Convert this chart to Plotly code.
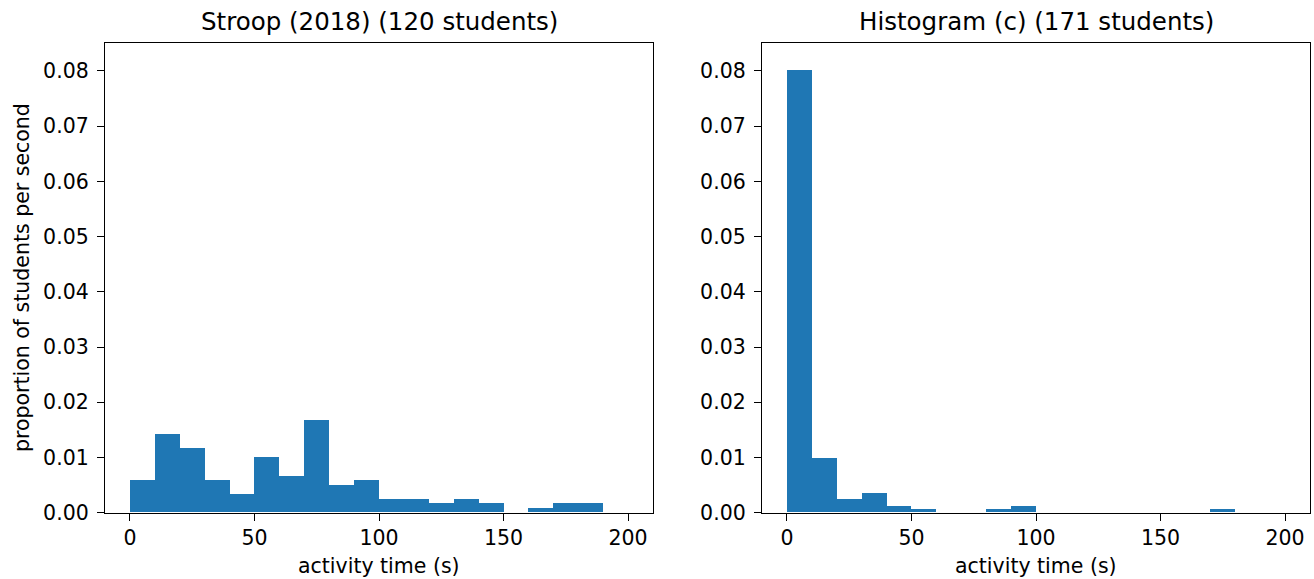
import plotly.graph_objects as go

# bin left edges (seconds), bin width 10
bin_edges = [0, 10, 20, 30, 40, 50, 60, 70, 80, 90, 100, 110, 120, 130, 140, 150, 160, 170, 180, 190]
bin_width = 10

# proportion of students per second
stroop_density = [0.00583, 0.01417, 0.01167, 0.00583, 0.00333, 0.01000, 0.00667, 0.01667, 0.00500, 0.00583,
                  0.00250, 0.00250, 0.00167, 0.00250, 0.00167, 0.0, 0.00083, 0.00167, 0.00167, 0.0]
hist_c_density = [0.08012, 0.00994, 0.00234, 0.00351, 0.00117, 0.00058, 0.0, 0.0, 0.00058, 0.00117,
                  0.0, 0.0, 0.0, 0.0, 0.0, 0.0, 0.0, 0.00058, 0.0, 0.0]

titles = ["Stroop (2018) (120 students)", "Histogram (c) (171 students)"]
x_label = "activity time (s)"
y_label = "proportion of students per second"
x_ticks = [0, 50, 100, 150, 200]
y_ticks = [0.0, 0.01, 0.02, 0.03, 0.04, 0.05, 0.06, 0.07, 0.08]

W, H = 1314, 579
BLUE = "#1f77b4"
FONT = "DejaVu Sans"

centers = [e + bin_width / 2 for e in bin_edges]

fig = go.Figure()
fig.add_trace(go.Bar(x=centers, y=stroop_density, width=bin_width, marker=dict(color=BLUE, line=dict(width=0)),
                     xaxis="x", yaxis="y", showlegend=False))
fig.add_trace(go.Bar(x=centers, y=hist_c_density, width=bin_width, marker=dict(color=BLUE, line=dict(width=0)),
                     xaxis="x2", yaxis="y2", showlegend=False))

def px_x(p):
    return p / W

def px_y(p):
    return 1 - p / H

left = (105, 653)
right = (762, 1310)
top, bottom = 43.3, 512.7

common_x = dict(range=[-10, 210], tickvals=x_ticks, ticks="outside", ticklen=7, tickwidth=1.3,
                tickcolor="black", showline=True, linecolor="black", linewidth=1.3, mirror=True,
                showgrid=False, zeroline=False, automargin=False,
                tickfont=dict(family=FONT, size=20.5, color="black"))
common_y = dict(range=[0, 0.085], tickvals=y_ticks, tickformat=".2f", ticks="outside", ticklen=7, tickwidth=1.3,
                tickcolor="black", showline=True, linecolor="black", linewidth=1.3, mirror=True,
                showgrid=False, zeroline=False, automargin=False, ticklabelstandoff=4,
                tickfont=dict(family=FONT, size=20.5, color="black"))

fig.update_layout(
    width=W, height=H,
    margin=dict(l=0, r=0, t=0, b=0, pad=0, autoexpand=False),
    plot_bgcolor="white", paper_bgcolor="white",
    bargap=0,
    xaxis=dict(domain=[px_x(left[0]), px_x(left[1])], anchor="y", **common_x),
    yaxis=dict(domain=[px_y(bottom), px_y(top)], anchor="x", **common_y),
    xaxis2=dict(domain=[px_x(right[0]), px_x(right[1])], anchor="y2", **common_x),
    yaxis2=dict(domain=[px_y(bottom), px_y(top)], anchor="x2", **common_y),
    font=dict(family=FONT, color="black"),
)

ann = []
for (l, r), t in zip([left, right], titles):
    ann.append(dict(text=t, x=px_x((l + r) / 2), y=px_y(22), xref="paper", yref="paper",
                    showarrow=False, xanchor="center", yanchor="middle",
                    font=dict(family=FONT, size=24.5, color="black")))
    ann.append(dict(text=x_label, x=px_x((l + r) / 2), y=px_y(566), xref="paper", yref="paper",
                    showarrow=False, xanchor="center", yanchor="middle",
                    font=dict(family=FONT, size=20.5, color="black")))
ann.append(dict(text=y_label, x=px_x(22), y=px_y((top + bottom) / 2), xref="paper", yref="paper",
                showarrow=False, xanchor="center", yanchor="middle", textangle=-90,
                font=dict(family=FONT, size=20.5, color="black")))
fig.update_layout(annotations=ann)

# remove the default page margin so the figure fills the window exactly
fig.write_html("out.html", config={"displayModeBar": False},
               post_script="document.body.style.margin='0';document.body.style.overflow='hidden';")
